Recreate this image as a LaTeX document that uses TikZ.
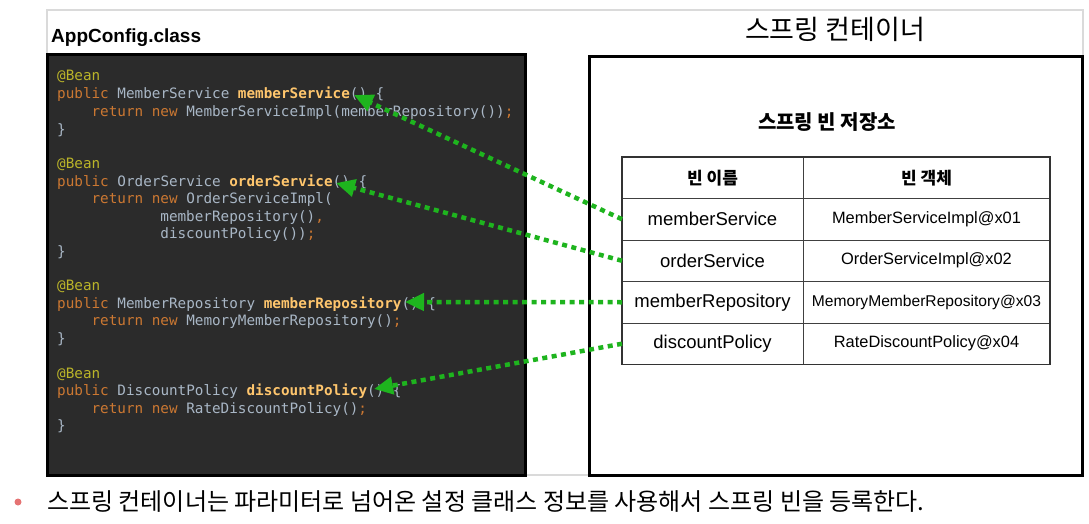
\documentclass[tikz,border=0pt]{standalone}
\usepackage{fontspec}
\setmainfont{Liberation Sans}
\newfontfamily\krfont{Noto Sans CJK KR}
\newfontfamily\codefont{DejaVu Sans Mono}
\usetikzlibrary{positioning,arrows.meta}

\definecolor{codebg}{HTML}{2B2B2B}
\definecolor{codetxt}{HTML}{A9B7C6}
\definecolor{codekw}{HTML}{CC7832}
\definecolor{codeann}{HTML}{BBB529}
\definecolor{codefn}{HTML}{FFC66D}
\definecolor{linkgreen}{RGB}{30,180,30}
\definecolor{framegray}{HTML}{DADADA}
\definecolor{bulletred}{HTML}{E57373}

\newcommand{\ann}[1]{\textcolor{codeann}{#1}}
\newcommand{\kw}[1]{\textcolor{codekw}{#1}}
\newcommand{\fn}[1]{\textcolor{codefn}{\bfseries #1}}

\tikzset{
  code/.style={anchor=west, inner sep=0pt, text height=10pt, text depth=3pt, text=codetxt, font=\codefont\fontsize{14.3}{17}\selectfont},
  cell/.style={draw=black!75, line width=0.8pt, inner sep=0pt, outer sep=0pt, minimum height=41.5pt},
  namecol/.style={cell, minimum width=181pt, font=\fontsize{18.5}{20}\selectfont},
  objcol/.style={cell, minimum width=247pt, font=\fontsize{16.4}{18}\selectfont},
  link/.style={draw=linkgreen, line width=4.5pt, dash pattern=on 5pt off 4.5pt, -{Triangle[length=19pt,width=17pt]}},
}

\begin{document}
\begin{tikzpicture}[x=1pt,y=-1pt]
\useasboundingbox (0,0) rectangle (1089,524);
% outer frame
\draw[framegray, line width=2pt] (47,10) rectangle (1083,475);

% code panel
\draw[fill=codebg, line width=3pt] (47,55) rectangle (525,475);
\node[anchor=west, inner sep=0pt, font=\bfseries\fontsize{19}{21}\selectfont] (appTitle) at (51,38) {AppConfig.class};

\foreach \y [count=\i] in {77,165,287,375}
        \node[code] (bean\i) at (57,\y) {\ann{@Bean}};
\foreach \y [count=\i] in {131,253,340,427}
        \node[code] (close\i) at (57,\y) {\}};
\node[code] (msDecl) at (57,95) {\kw{public} MemberService \fn{memberService}() \{};
\node[code] (msBody) at (91.4,113) {\kw{return new} MemberServiceImpl(memberRepository())\kw{;}};
\node[code] (osDecl) at (57,183) {\kw{public} OrderService \fn{orderService}() \{};
\node[code] (osBody) at (91.4,200) {\kw{return new} OrderServiceImpl(};
\node[code] (osArgA) at (160.2,218) {memberRepository()\kw{,}};
\node[code] (osArgB) at (160.2,235) {discountPolicy())\kw{;}};
\node[code] (mrDecl) at (57,305) {\kw{public} MemberRepository \fn{memberRepository}() \{};
\node[code] (mrBody) at (91.4,322) {\kw{return new} MemoryMemberRepository()\kw{;}};
\node[code] (dpDecl) at (57,392) {\kw{public} DiscountPolicy \fn{discountPolicy}() \{};
\node[code] (dpBody) at (91.4,410) {\kw{return new} RateDiscountPolicy()\kw{;}};

\coordinate (msTip) at (354,95);
\coordinate (osTip) at (336,183);
\coordinate (mrTip) at (405,302);
\coordinate (dpTip) at (374,389);

% spring container
\draw[line width=3pt] (589,57) rectangle (1082,475);
\node[font=\krfont\fontsize{27}{29}\selectfont] (containerTitle) at (835,29) {스프링 컨테이너};
\node[font=\krfont\bfseries\fontsize{20}{22}\selectfont] (storeTitle) at (827,122) {스프링 빈 저장소};

% bean table
\node[namecol, font=\krfont\bfseries\fontsize{17}{19}\selectfont] (hdrName) at (712.5,177.75) {빈 이름};
\node[objcol, font=\krfont\bfseries\fontsize{17}{19}\selectfont, right=0pt of hdrName] (hdrObj) {빈 객체};
\node[namecol, below=0pt of hdrName] (nmA) {memberService};
\node[objcol, right=0pt of nmA] (objA) {MemberServiceImpl@x01};
\node[namecol, below=0pt of nmA] (nmB) {orderService};
\node[objcol, right=0pt of nmB] (objB) {OrderServiceImpl@x02};
\node[namecol, below=0pt of nmB] (nmC) {memberRepository};
\node[objcol, font=\fontsize{15.6}{18}\selectfont, right=0pt of nmC] (objC) {MemoryMemberRepository@x03};
\node[namecol, below=0pt of nmC] (nmD) {discountPolicy};
\node[objcol, right=0pt of nmD] (objD) {RateDiscountPolicy@x04};
\draw[line width=1.5pt, black!80] (hdrName.north west) rectangle (objD.south east);

% links
\draw[link] (nmA.west) -- (msTip);
\draw[link] (nmB.west) -- (osTip);
\draw[link] (nmC.west) -- (mrTip);
\draw[link] (nmD.west) -- (dpTip);

% note
\node[circle, fill=bulletred, inner sep=0pt, minimum size=7pt] (bullet) at (18,502) {};
\node[anchor=west, inner sep=0pt, font=\krfont\fontsize{24}{26}\selectfont] (note) at (47,502) {스프링 컨테이너는 파라미터로 넘어온 설정 클래스 정보를 사용해서 스프링 빈을 등록한다.};
\end{tikzpicture}
\end{document}
